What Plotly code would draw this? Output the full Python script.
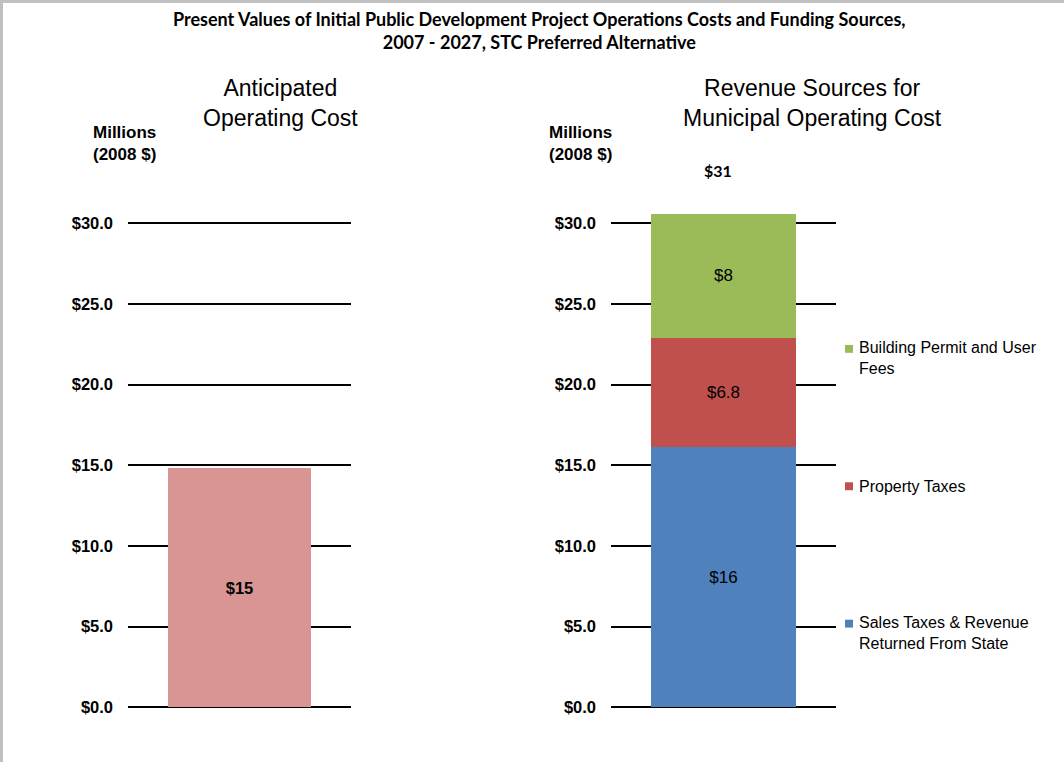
import plotly.graph_objects as go

# ---------------- data ----------------
left_category = ["Anticipated Operating Cost"]
left_values = [14.8]
left_labels = ["$15"]

right_category = ["Revenue Sources"]
series_names = [["Sales Taxes & Revenue", "Returned From State"],
                ["Property Taxes"],
                ["Building Permit and User", "Fees"]]
series_values = [16.1, 6.8, 7.7]
series_labels = ["$16", "$6.8", "$8"]
series_colors = ["#4F81BD", "#C0504D", "#9BBB59"]
left_color = "#D99594"

tick_vals = [0, 5, 10, 15, 20, 25, 30]
tick_text = ["$%.1f" % v for v in tick_vals]

title_lines = ["Present Values of Initial Public Development Project Operations Costs and Funding Sources,",
               "2007 - 2027, STC Preferred Alternative"]
left_title = ["Anticipated", "Operating Cost"]
right_title = ["Revenue Sources for", "Municipal Operating Cost"]
unit_lines = ["Millions", "(2008 $)"]

W, H = 1064, 771
zero_px = 715.5
px_per_unit = 16.32
y_top_val = 32
ydom = [(H - zero_px) / H, (H - (zero_px - y_top_val * px_per_unit)) / H]
left_dom = [128 / W, 351 / W]
right_dom = [611 / W, 836 / W]


def py(p):
    return 1 - p / H


fig = go.Figure()

fig.add_trace(go.Bar(
    x=left_category, y=left_values, text=left_labels, textposition="inside",
    insidetextanchor="middle", textangle=0,
    textfont=dict(family="Liberation Sans", size=16.5, color="black", weight="bold"),
    marker=dict(color=left_color, line=dict(width=0)), width=0.643,
    xaxis="x", yaxis="y", showlegend=False, hoverinfo="skip"))

for name, val, lab, col in zip(series_names, series_values, series_labels, series_colors):
    fig.add_trace(go.Bar(
        x=right_category, y=[val], text=[lab], textposition="inside",
        insidetextanchor="middle", textangle=0, name=" ".join(name),
        textfont=dict(family="Liberation Sans", size=17, color="black"),
        marker=dict(color=col, line=dict(width=0)), width=0.644,
        xaxis="x2", yaxis="y2", showlegend=False, hoverinfo="skip"))

total = sum(series_values)

axis_common = dict(
    range=[0, y_top_val], tickmode="array", tickvals=tick_vals, ticktext=tick_text,
    showgrid=True, gridcolor="black", gridwidth=1.5, zeroline=True,
    zerolinecolor="black", zerolinewidth=1.5, showline=False, ticks="",
    ticklabelstandoff=14,
    tickfont=dict(family="Liberation Sans", size=16.5, color="black", weight="bold"),
    domain=ydom, fixedrange=True)

fig.update_layout(
    width=W, height=H, autosize=False,
    margin=dict(l=0, r=0, t=0, b=0),
    paper_bgcolor="white", plot_bgcolor="white",
    barmode="stack",
    xaxis=dict(domain=left_dom, range=[-0.5, 0.5], showticklabels=False,
               showgrid=False, zeroline=False, showline=False, fixedrange=True),
    yaxis=dict(anchor="x", **axis_common),
    xaxis2=dict(domain=right_dom, range=[-0.5, 0.5], showticklabels=False,
                showgrid=False, zeroline=False, showline=False, anchor="y2", fixedrange=True),
    yaxis2=dict(anchor="x2", **axis_common),
)

annotations = []


def block_ann(lines, xpx, ypx_center, font, xanchor="center", align="center"):
    annotations.append(dict(
        text="<br>".join(lines), x=xpx / W, y=py(ypx_center), xref="paper", yref="paper",
        xanchor=xanchor, yanchor="middle", showarrow=False, align=align, font=font))


title_font = dict(family="Lato", size=18, color="black", weight="bold")
block_ann(title_lines, 539, 30.5, title_font)

sub_font = dict(family="Liberation Sans", size=23, color="black")
block_ann(left_title, 280, 104.5, sub_font)
block_ann(right_title, 812, 104.5, sub_font)

unit_font = dict(family="Liberation Sans", size=17, color="black", weight="bold")
for lx in [91, 547]:
    block_ann(unit_lines, lx, 145, unit_font, xanchor="left", align="left")

# total label above stacked bar
annotations.append(dict(
    text="$%.0f" % total, x=right_category[0], y=total, xref="x2", yref="y2",
    xanchor="center", yanchor="bottom", yshift=32, xshift=-6, showarrow=False,
    font=dict(family="Lato", size=16, color="black", weight="bold")))

# manual legend (top: green, middle: red, bottom: blue)
legend_y = [631, 492, 353]
leg_font = dict(family="Liberation Sans", size=16, color="black")
shapes = []
for ypx, name, col in zip(legend_y, series_names, series_colors):
    block_ann(name, 857, ypx + 9.5 * (len(name) - 1), leg_font, xanchor="left", align="left")
    shapes.append(dict(type="rect", xref="paper", yref="paper",
                       x0=845 / W, x1=853 / W, y0=py(ypx + 4), y1=py(ypx - 4),
                       fillcolor=col, line=dict(width=0)))

# gray frame edges (top and left)
shapes.append(dict(type="rect", xref="paper", yref="paper", x0=0, x1=1, y0=py(3), y1=1,
                   fillcolor="#C0C0C0", line=dict(width=0)))
shapes.append(dict(type="rect", xref="paper", yref="paper", x0=0, x1=3 / W, y0=0, y1=1,
                   fillcolor="#C0C0C0", line=dict(width=0)))

fig.update_layout(annotations=annotations, shapes=shapes)
fig.write_html("out.html", config={"displayModeBar": False},
               post_script="document.body.style.margin='0';document.body.style.overflow='hidden';")
